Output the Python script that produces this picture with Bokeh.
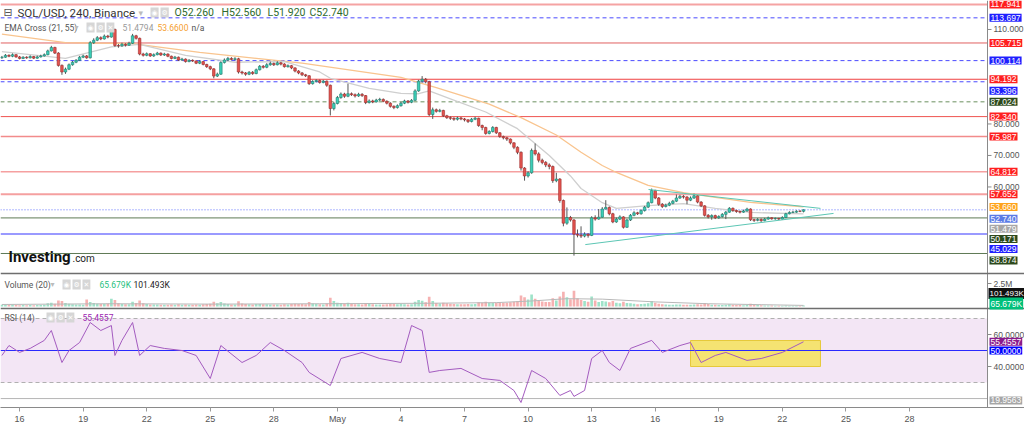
from bokeh.plotting import figure
from bokeh.models import Range1d, LinearAxis, FixedTicker, Label
from bokeh.embed import file_html
from bokeh.resources import INLINE

# ---------------- data ----------------
tick_idx = [5, 23, 41, 59, 77, 95, 113, 131, 149, 167, 185, 203, 221, 239, 257]
tick_lbl = ["16", "19", "22", "25", "28", "May", "4", "7", "10", "13", "16", "19", "22", "25", "28"]

closes = [101.2,101.8,101.5,102.0,101.3, 100.8,101.2,101.0,101.4,100.9,101.3, 101.6,102.0,103.2,104.3,102.5,98.6,
          96.5,97.4,98.8,99.6,100.2,101.2, 101.6,101.0,105.8,106.6,107.4,107.0, 107.9,107.6,110.0,104.9,104.8,105.3,
          105.0,105.6,108.0,107.2,102.2,101.8, 102.3,101.6,102.0,102.5,101.9,102.2, 101.5,100.8,101.2,100.3,100.6,99.8,
          100.2,100.0,99.3,99.8,98.9,98.2, 97.5,95.2,95.8,99.5,100.3,100.8, 100.5,100.7,96.5,96.2,95.8,96.4,
          96.0,97.2,98.3,98.0,98.8,99.2, 98.8,99.4,99.0,98.2,98.5,97.8, 96.8,96.2,95.6,95.3,92.8,93.5,
          93.8,93.2,93.6,92.3,84.9,86.5, 88.4,89.5,88.8,89.6,89.3,88.9, 89.4,89.0,86.8,87.3,87.0,87.6,
          87.8,87.2,86.6,85.6,85.2,85.8, 86.6,87.3,86.9,87.5,90.5,93.6, 94.2,93.4,83.0,84.5,84.0,84.3,
          82.6,82.0,81.8,81.5,81.9,81.6, 81.3,80.8,81.5,81.8,79.5,78.9, 77.0,77.6,78.9,77.2,76.0,75.6,
          75.2,74.0,72.6,71.0,66.0,63.5, 64.5,71.6,70.5,68.5,67.8,67.0, 66.5,62.0,62.5,55.7,48.5,50.3,
          49.5,45.0,44.7,44.4,45.0,44.6, 50.2,49.8,50.4,53.0,53.5,51.5, 48.9,49.8,50.5,47.2,49.5,51.0,
          51.8,51.5,52.5,53.6,55.0,58.9, 56.5,54.5,53.8,54.2,54.8,55.5, 56.5,57.0,56.8,55.8,56.5,57.2,
          55.2,54.0,51.0,50.5,50.9,50.2, 50.6,51.3,52.0,53.2,52.5,52.2, 52.0,52.4,53.0,49.6,49.4,49.7,
          49.3,49.8,50.2,49.9,50.0,49.8, 50.3,51.5,51.9,52.0,52.3,52.26, 52.74]

opens = [101.0, 101.2,101.8,101.5,102.0,101.3, 100.8,101.2,101.0,101.4,100.9,101.3, 101.6,102.0,103.2,104.3,102.5,98.6,
         96.5,97.4,98.8,99.6,100.2,101.2, 101.6,101.0,105.8,106.6,107.4,107.0, 107.9,107.6,110.0,104.9,104.8,105.3,
         105.0,105.6,108.0,107.2,102.2,101.8, 102.3,101.6,102.0,102.5,101.9,102.2, 101.5,100.8,101.2,100.3,100.6,99.8,
         100.2,100.0,99.3,99.8,98.9,98.2, 97.5,95.2,95.8,99.5,100.3,100.8, 100.5,100.7,96.5,96.2,95.8,96.4,
         96.0,97.2,98.3,98.0,98.8,99.2, 98.8,99.4,99.0,98.2,98.5,97.8, 96.8,96.2,95.6,95.3,92.8,93.5,
         93.8,93.2,93.6,92.3,84.9,86.5, 88.4,89.5,88.8,89.6,89.3,88.9, 89.4,89.0,86.8,87.3,87.0,87.6,
         87.8,87.2,86.6,85.6,85.2,85.8, 86.6,87.3,86.9,87.5,90.5,93.6, 94.2,93.4,83.0,84.5,84.0,84.3,
         82.6,82.0,81.8,81.5,81.9,81.6, 81.3,80.8,81.5,81.8,79.5,78.9, 77.0,77.6,78.9,77.2,76.0,75.6,
         75.2,74.0,72.6,71.0,66.0,63.5, 64.5,71.6,70.5,68.5,67.8,67.0, 66.5,62.0,62.5,55.7,48.5,50.3,
         49.5,45.0,44.7,44.4,45.0,44.6, 50.2,49.8,50.4,53.0,53.5,51.5, 48.9,49.8,50.5,47.2,49.5,51.0,
         51.8,51.5,52.5,53.6,55.0,58.9, 56.5,54.5,53.8,54.2,54.8,55.5, 56.5,57.0,56.8,55.8,56.5,57.2,
         55.2,54.0,51.0,50.5,50.9,50.2, 50.6,51.3,52.0,53.2,52.5,52.2, 52.0,52.4,53.0,49.6,49.4,49.7,
         49.3,49.8,50.2,49.9,50.0,49.8, 50.3,51.5,51.9,52.0,52.3,52.26]

highs = [101.6,102.2,102.1,102.4,102.2, 101.6,101.5,101.5,101.8,101.6,101.7, 102.0,102.4,103.6,104.8,104.5,102.8,
         98.9,97.9,99.2,100.0,100.6,101.6, 102.0,101.9,106.3,107.2,107.9,107.8, 108.4,108.3,111.0,110.3,105.4,105.8,
         105.6,106.1,108.6,108.3,107.4,102.6, 102.7,102.5,102.4,102.9,102.7,102.6, 102.4,101.7,101.6,101.4,101.0,100.8,
         100.6,100.5,100.2,100.2,100.0,99.1, 98.5,97.7,96.3,99.9,100.8,101.3, 101.2,101.2,101.0,96.9,96.5,96.8,
         96.8,97.6,98.7,98.7,99.3,99.8, 99.5,99.9,99.7,99.3,98.9,98.7, 98.0,97.1,96.5,95.9,95.5,93.9,
         94.2,94.1,94.0,93.8,92.5,87.0, 88.9,90.0,89.9,92.8,90.0,89.7, 89.9,89.8,89.2,87.8,87.7,88.0,
         88.3,88.1,87.5,86.9,85.9,86.2, 87.0,87.7,87.6,87.9,91.0,94.0, 95.2,94.6,93.7,85.2,84.9,84.8,
         84.5,82.9,82.4,82.1,82.3,82.2, 81.9,81.5,81.9,82.3,82.0,79.8, 79.1,78.0,79.3,79.1,77.4,76.3,
         75.9,75.4,74.2,72.9,71.3,66.3, 65.0,72.2,73.8,71.0,69.0,68.2, 67.5,66.8,64.5,62.8,56.0,53.5,
         50.8,49.8,46.5,47.5,45.6,45.3, 50.7,51.0,53.0,53.6,55.8,53.8, 51.8,50.3,51.0,50.7,49.9,51.4,
         52.3,52.1,52.9,54.0,55.4,59.5, 59.1,56.8,54.9,54.7,55.3,55.9, 57.6,57.5,57.4,57.1,57.0,57.9,
         57.4,55.5,54.2,51.4,51.3,51.2, 51.0,51.7,52.4,53.6,53.5,52.8, 52.5,52.8,53.4,53.2,49.9,50.1,
         50.0,50.2,50.6,50.4,50.3,50.2, 50.7,51.8,52.3,52.4,52.6,52.6, 52.9]

lows = [100.7,101.0,101.2,101.2,101.0, 100.5,100.6,100.7,100.8,100.6,100.7, 101.1,101.4,101.8,103.0,102.2,98.2,
        95.6,95.9,97.1,98.5,99.3,100.0, 100.9,100.7,100.8,105.4,106.3,106.6, 106.8,107.2,107.4,104.5,104.2,104.5,
        104.6,104.8,105.4,106.8,101.8,101.4, 101.5,101.3,101.3,101.8,101.6,101.6, 101.2,100.5,100.6,100.0,100.0,99.5,
        99.6,99.7,99.0,99.0,98.6,97.8, 97.1,94.5,94.9,95.6,99.2,100.0, 100.2,100.2,96.0,95.7,95.3,95.5,
        95.6,95.8,97.0,97.6,97.7,98.5, 98.4,98.6,98.6,97.9,97.9,97.4, 96.4,95.8,95.2,94.9,92.4,92.5,
        93.2,92.8,92.9,91.8,82.7,84.3, 86.2,88.0,88.3,88.5,88.9,88.4, 88.6,88.6,86.3,86.5,86.6,86.8,
        87.3,86.9,86.2,85.2,84.7,84.9, 85.5,86.3,86.5,86.6,87.3,90.2, 93.1,92.9,82.5,81.6,83.6,83.7,
        82.2,81.6,81.3,81.0,81.1,81.2, 80.8,80.3,80.5,81.2,79.1,78.0, 76.6,76.7,77.3,76.8,75.6,75.1,
        74.6,73.5,72.0,70.4,65.2,62.0, 63.0,64.2,70.0,67.8,67.2,66.3, 65.6,61.3,61.5,55.0,47.5,48.0,
        49.0,38.2,44.0,43.8,44.0,43.9, 44.4,49.3,49.6,50.2,52.8,51.0, 48.5,48.6,49.5,46.8,47.0,49.2,
        50.7,51.1,51.2,52.2,53.3,54.8, 56.1,54.0,53.3,53.5,53.9,54.5, 55.2,56.2,56.3,54.5,55.5,56.2,
        54.8,53.6,50.6,50.0,49.6,49.8, 49.9,50.3,49.8,51.8,52.1,51.8, 51.6,51.8,52.1,49.2,48.9,49.1,
        48.9,49.1,49.6,49.6,49.6,49.5, 49.6,50.1,51.3,51.7,51.8,52.0, 51.92]

volume_k = [180,150,160,200,170, 140,150,130,160,140,150, 170,200,350,420,300,650,
            600,380,300,250,230,220, 200,750,500,380,300,260, 280,320,850,700,350,280,
            250,240,520,380,650,360, 260,230,210,220,200,190, 200,230,190,240,200,220,
            190,180,210,200,240,260, 300,520,340,480,320,260, 220,210,560,330,280,240,
            230,260,280,240,250,230, 210,220,200,240,230,260, 300,280,260,250,480,330,
            260,240,230,320,950,600, 420,380,300,420,280,250, 240,230,380,280,240,230,
            220,230,250,300,280,250, 260,240,230,250,520,700, 620,450,1050,600,380,320,
            420,360,300,260,240,250, 240,280,250,260,450,420, 520,400,380,420,450,380,
            400,450,520,600,1200,1000, 750,1300,850,600,550,500, 480,900,650,1100,1600,1000,
            800,1700,900,700,600,520, 1100,650,500,600,550,450, 600,400,350,520,380,350,
            300,250,280,300,350,600, 400,300,250,220,200,200, 230,210,190,200,180,210,
            250,230,380,260,200,180, 170,160,180,240,190,160, 150,140,160,300,180,150,
            130,120,110,100,90,85, 80,120,90,80,70,65, 101]

volma_idx = [0, 30, 60, 90, 120, 140, 150, 160, 170, 185, 200, 215, 227]
volma_val = [220, 300, 260, 300, 350, 420, 600, 850, 800, 500, 300, 200, 120]

ema21_idx = [0, 18, 31, 39, 52, 66, 80, 90, 93, 104, 113, 118, 121, 127, 137, 146, 155, 161, 164, 170, 174, 183,
             193, 202, 212, 227]
ema21_val = [103.0, 100.8, 104.5, 105.3, 101.8, 99.6, 99.8, 96.5, 94.5, 91.3, 89.7, 89.6, 90.5, 88.0, 83.8, 78.5,
             70.0, 63.5, 59.5, 55.0, 53.2, 54.1, 54.7, 53.2, 51.9, 51.479]

ema55_idx = [0, 18, 37, 56, 85, 113, 123, 138, 147, 157, 164, 170, 174, 183, 193, 202, 212, 226, 227]
ema55_val = [108.5, 105.8, 105.5, 102.7, 99.3, 94.8, 91.5, 86.3, 82.0, 76.5, 71.0, 66.8, 64.6, 60.5, 58.2, 56.7,
             55.1, 53.8, 53.66]

rsi_idx = [0, 2, 5, 8, 12, 14, 17, 19, 22, 25, 28, 31, 32, 34, 37, 39, 42, 46, 51, 55, 59, 62, 68, 72, 76, 80,
           85, 87, 93, 96, 102, 107, 113, 116, 119, 121, 124, 130, 136, 141, 145, 147, 150, 154, 158, 161, 162,
           165, 167, 170, 172, 175, 178, 184, 187, 192, 195, 198, 202, 205, 211, 215, 221, 227]
rsi_val = [46.9, 53.1, 48.8, 51.3, 56.3, 62.5, 42.5, 50.0, 55.0, 67.5, 62.5, 65.6, 46.9, 56.3, 67.5, 46.9, 53.1,
           51.3, 50.0, 46.9, 32.5, 53.1, 42.5, 46.9, 55.0, 50.0, 42.5, 36.3, 28.1, 45.0, 48.8, 45.0, 42.5, 65.6,
           62.5, 36.3, 37.5, 38.8, 32.5, 31.3, 25.0, 17.5, 37.5, 32.5, 21.9, 25.0, 21.3, 25.0, 45.0, 50.0, 42.5,
           37.5, 51.3, 56.3, 48.8, 53.1, 55.0, 42.5, 46.9, 48.8, 43.8, 45.0, 48.8, 55.4557]

levels = [117.941, 113.697, 105.715, 100.114, 94.192, 93.396, 87.024, 82.340, 75.987, 64.812, 57.652, 50.171, 45.029, 38.874]
level_text = ["117.941", "113.697", "105.715", "100.114", "94.192", "93.396", "87.024", "82.340", "75.987",
              "64.812", "57.652", "50.171", "45.029", "38.874"]
last_price = 52.74
ema21_last = 51.479
ema55_last = 53.660
rsi_last = 55.4557
rsi_low_line = 19.9563
price_ticks = [110, 80, 70, 60]

tri_upper_x = [183.1, 231.8]
tri_upper_y = [59.2, 53.2]
tri_lower_x = [165.2, 235.5]
tri_lower_y = [41.7, 51.6]

box_idx = [195.0, 231.8]
box_rsi = [40.0, 56.25]

# ---------------- layout constants (pixels) ----------------
W, H = 1024, 426
AXIS_X = 987          # px of the right price axis
FRAME_H = 407
X0, X_AT_AXIS = -0.4, 279.1
X1 = X0 + W * (X_AT_AXIS - X0) / AXIS_X
P_TOP, P_PX = 119.2, 0.3175
VOL_ZERO_Y, VOL_PX = 306, 108.7
RSI50_Y, RSI_PX = 350, 1.6


def xd(px):
    return X0 + px * (X_AT_AXIS - X0) / AXIS_X


def py(ypx):
    return P_TOP - ypx * P_PX


p = figure(width=W, height=H, x_range=Range1d(X0, X1), y_range=Range1d(py(FRAME_H), P_TOP),
           output_backend="svg", toolbar_location=None, min_border_left=0, min_border_right=0,
           min_border_top=0, min_border_bottom=H - FRAME_H, x_axis_location=None, y_axis_location=None)
p.extra_y_ranges = {
    "vol": Range1d(-(FRAME_H - VOL_ZERO_Y) * VOL_PX, VOL_ZERO_Y * VOL_PX),
    "rsi": Range1d(50 - (FRAME_H - RSI50_Y) / RSI_PX, 50 + RSI50_Y / RSI_PX),
}
p.outline_line_color = None
p.background_fill_color = "white"
p.border_fill_color = "white"
p.xgrid.visible = False
p.ygrid.visible = False

# x axis
xax = LinearAxis(ticker=FixedTicker(ticks=tick_idx),
                 major_label_overrides={t: l for t, l in zip(tick_idx, tick_lbl)})
xax.major_label_text_font_size = "9px"
xax.major_label_text_color = "#555555"
xax.major_label_text_font = "Liberation Sans"
xax.axis_line_color = "#8a8a8a"
xax.major_tick_line_color = "#9a9a9a"
xax.major_tick_out = 4
xax.major_tick_in = 0
xax.minor_tick_line_color = None
xax.major_label_standoff = 2
p.add_layout(xax, "below")

XL, XR = xd(0), xd(AXIS_X)

# ---------------- RSI panel ----------------
p.hstrip(y0=[30], y1=[70], fill_color="#f3e6f5", line_color=None, y_range_name="rsi")
p.segment(x0=[XL, XL], x1=[XR, XR], y0=[70, 30], y1=[70, 30], line_color="#b0b0b0", line_dash="4 3",
          line_width=1, y_range_name="rsi")
p.segment(x0=[XL], x1=[XR], y0=[rsi_low_line], y1=[rsi_low_line], line_color="#b5b5b5", line_width=1,
          y_range_name="rsi")
p.quad(left=[box_idx[0]], right=[box_idx[1]], bottom=[box_rsi[0]], top=[box_rsi[1]],
       fill_color="#f5e25a", fill_alpha=0.85, line_color="#e6c93a", line_width=1, y_range_name="rsi")
p.segment(x0=[XL], x1=[XR], y0=[50], y1=[50], line_color="#2a2aff", line_width=1, y_range_name="rsi")
p.line(rsi_idx, rsi_val, line_color="#a35bbf", line_width=1, y_range_name="rsi")

# ---------------- volume panel ----------------
idx = list(range(len(closes)))
up = [c >= o for o, c in zip(opens, closes)]
vcol = ["#9fe3c9" if u else "#f6b1b1" for u in up]
p.vbar(x=idx, width=0.75, top=volume_k, bottom=0, fill_color=vcol, line_color=None, y_range_name="vol")
p.line(volma_idx, volma_val, line_color="#b8b8b8", line_width=1, y_range_name="vol")

# ---------------- price levels ----------------
lvl_style = {
    117.941: ("#f5a3a3", 2, "solid"), 113.697: ("#4a4aff", 1, "4 3"), 105.715: ("#e06060", 1, "solid"),
    100.114: ("#4a4aff", 1, "4 3"), 94.192: ("#f04040", 1, "solid"), 93.396: ("#4a4aff", 1, "4 3"),
    87.024: ("#6b8f5e", 1, "4 3"), 82.340: ("#ef5350", 1, "solid"), 75.987: ("#f28b8b", 1.5, "solid"),
    64.812: ("#f5a0a0", 1.5, "solid"), 57.652: ("#f5a0a0", 2, "solid"), 50.171: ("#5f7a55", 1, "solid"),
    45.029: ("#9a9aff", 2, "solid"), 38.874: ("#5f7a55", 1, "solid"),
}
for lv in levels:
    c, w, d = lvl_style[lv]
    p.segment(x0=[XL], x1=[XR], y0=[lv], y1=[lv], line_color=c, line_width=w, line_dash=d)
p.segment(x0=[XL], x1=[XR], y0=[last_price], y1=[last_price], line_color="#5b6cff", line_width=1,
          line_dash="1 2")

# EMA lines
p.line(ema55_idx, ema55_val, line_color="#f9c48e", line_width=1.3)
p.line(ema21_idx, ema21_val, line_color="#cfcfcf", line_width=1.3)

# candles
p.segment(x0=idx, y0=lows, x1=idx, y1=highs, line_color="#555555", line_width=1)
body_fill = ["#3ccfb8" if u else "#e4544f" for u in up]
body_line = ["#1e7d6f" if u else "#9e2b2b" for u in up]
p.vbar(x=idx, width=0.72, top=[max(o, c) for o, c in zip(opens, closes)],
       bottom=[min(o, c) for o, c in zip(opens, closes)], fill_color=body_fill, line_color=body_line,
       line_width=0.6)

# triangle
p.line(tri_upper_x, tri_upper_y, line_color="#5cc6b4", line_width=1)
p.line(tri_lower_x, tri_lower_y, line_color="#5cc6b4", line_width=1)

# right scale area: white, axis line, ticks, panel separators
p.quad(left=[XR], right=[X1], bottom=[py(FRAME_H)], top=[P_TOP], fill_color="white", line_color=None)
p.segment(x0=[XR], x1=[XR], y0=[py(FRAME_H)], y1=[P_TOP], line_color="#8a8a8a", line_width=1)
tick_y = price_ticks + [py(283), py(334), py(366)]
p.segment(x0=[XR] * len(tick_y), x1=[xd(AXIS_X + 4)] * len(tick_y), y0=tick_y, y1=tick_y,
          line_color="#8a8a8a", line_width=1)
p.segment(x0=[XL, XL], x1=[X1, X1], y0=[py(273), py(308)], y1=[py(273), py(308)], line_color="#6e6e6e",
          line_width=1.5)

# ---------------- right side labels ----------------
FONT = "Liberation Sans"


def rlabel(y, text, bg, fg="white", yr="default", xpx=AXIS_X + 2, size="8.5px"):
    p.add_layout(Label(x=xd(xpx), y=y, y_range_name=yr, text=text, text_font=FONT, text_font_size=size,
                       text_color=fg, background_fill_color=bg, text_baseline="middle", text_align="left",
                       padding=1))


lvl_bg = {117.941: "#ff1f1f", 113.697: "#1f1fff", 105.715: "#ff1f1f", 100.114: "#1f1fff", 94.192: "#ff1f1f",
          93.396: "#1f1fff", 87.024: "#2d4a1c", 82.340: "#ff1f1f", 75.987: "#ff1f1f", 64.812: "#ff1f1f",
          57.652: "#ff1f1f", 50.171: "#2d4a1c", 45.029: "#1f1fff", 38.874: "#2d4a1c"}
lvl_shift_px = {93.396: 9, 50.171: 21, 45.029: 15, 38.874: 7}

for t in price_ticks:
    rlabel(t, "%.3f" % t, None, fg="#555555", xpx=AXIS_X + 5)
rlabel(py(283), "2.5M", None, fg="#555555", xpx=AXIS_X + 5)
rlabel(py(334), "60.0000", None, fg="#555555", xpx=AXIS_X + 5)
rlabel(py(366), "40.0000", None, fg="#555555", xpx=AXIS_X + 5)

for lv, txt in zip(levels, level_text):
    rlabel(lv - lvl_shift_px.get(lv, 0) * P_PX, txt, lvl_bg[lv])
rlabel(ema55_last, "53.660", "#ffa31a")
rlabel(last_price - 9 * P_PX, "52.740", "#5a7be6")
rlabel(ema21_last - 15 * P_PX, "51.479", "#a6a6a6")
rlabel(py(293), "101.493K", "#111111", xpx=AXIS_X + 1, size="8px")
rlabel(py(303), "65.679K", "#00c07a")
rlabel(rsi_last, "55.4557", "#8b1a8b", yr="rsi")
rlabel(50, "50.0000", "#0000ff", yr="rsi")
rlabel(rsi_low_line - 1.2, "19.9563", "#a6a6a6", yr="rsi")


# ---------------- legends ----------------
def tlabel(xpx, ypx, text, color, size="11px", bold=False, font="Roboto"):
    p.add_layout(Label(x=xd(xpx), y=py(ypx), text=text, text_color=color, text_font_size=size, text_font=font,
                       text_font_style="bold" if bold else "normal", text_baseline="middle", text_align="left"))


def icons(x0px, ypx, n=3):
    for k, g in enumerate(["◉", "⚙", "✕"][:n]):
        p.add_layout(Label(x=xd(x0px + k * 10), y=py(ypx), text=g, text_color="white", text_font_size="7px",
                           text_font="DejaVu Sans", background_fill_color="#d6d6d6", text_baseline="middle",
                           text_align="left", padding=1))


tlabel(3, 12, "⊟", "#555555", "11px", font="DejaVu Sans")
tlabel(17, 12, "SOL/USD, 240, Binance", "#333333", "11.5px")
tlabel(138, 12, "▾", "#bbbbbb", "9px", font="DejaVu Sans")
icons(150, 12, 2)
tlabel(174, 12, "O52.260", "#2e6b2e", "10.5px")
tlabel(221, 12, "H52.560", "#2e6b2e", "10.5px")
tlabel(267, 12, "L51.920", "#2e6b2e", "10.5px")
tlabel(309, 12, "C52.740", "#2e6b2e", "10.5px")

tlabel(4, 27, "EMA Cross (21, 55)", "#555555", "8.5px")
tlabel(74, 27, "▾", "#bbbbbb", "8px", font="DejaVu Sans")
icons(86, 27)
tlabel(122, 27, "51.4794", "#9a9a9a", "8.5px")
tlabel(157, 27, "53.6600", "#f5a030", "8.5px")
tlabel(191, 27, "n/a", "#555555", "8.5px")

tlabel(4, 284, "Volume (20)", "#555555", "8.5px")
tlabel(50, 284, "▾", "#bbbbbb", "8px", font="DejaVu Sans")
icons(62, 284)
tlabel(99, 284, "65.679K", "#1fbf80", "8.5px")
tlabel(133, 284, "101.493K", "#222222", "8.5px")

tlabel(4, 317, "RSI (14)", "#555555", "8.5px")
icons(46, 317)
tlabel(82, 317, "55.4557", "#9c27b0", "8.5px")

tlabel(8, 256, "Investing", "#111111", "15px", bold=True)
tlabel(72, 258, ".com", "#222222", "10px")

open("out.html", "w").write(file_html(p, INLINE))
